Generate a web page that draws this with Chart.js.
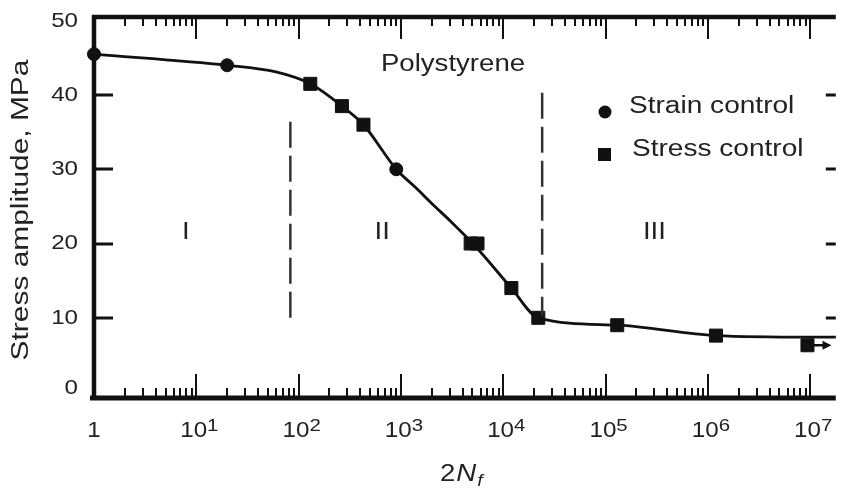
<!DOCTYPE html>
<html>
<head>
<meta charset="utf-8">
<script src="https://cdn.jsdelivr.net/npm/chart.js@4.4.1/dist/chart.umd.min.js"></script>
<style>
  html, body { margin: 0; padding: 0; background: #fff; overflow: hidden; }
</style>
</head>
<body>
<canvas id="snChart" width="846" height="491"></canvas>
<script>
// Fatigue data, polystyrene (stress amplitude vs reversals 2Nf)
const strainCycles = [1, 20, 900];
const strainStress = [45.5, 44, 30];

const stressCycles = [130, 265, 430, 4800, 5600, 12000, 22000, 130000, 1200000, 9400000];
const stressStress = [41.5, 38.5, 36, 20, 20, 14, 10, 9, 7.6, 6.3];

// hand-drawn fit through the points
const fitCycles = [1, 20, 60, 130, 265, 430, 900, 1400, 2000, 3000, 5200, 12000, 22000, 130000, 1200000, 10000000, 17800000];
const fitStress = [45.5, 44, 43.1, 41.5, 38.5, 36, 30, 27.5, 25.4, 23.1, 19.8, 14, 10, 9, 7.6, 7.4, 7.4];

// region boundaries (dashed)
const boundaryCycles = [83, 24000];
const boundaryTop = [36.4, 40.3];
const boundaryBottom = [10, 10.3];

const regionLabels = ["I", "II", "III"];
const regionCycles = [7.9, 655, 300000];
const regionStress = 21.4;

const yTicks = [10, 20, 30, 40];
const yTickLabels = [0, 10, 20, 30, 40, 50];
const xDecades = [0, 1, 2, 3, 4, 5, 6, 7];

const X_MAX = 17782794;
const INK = "#111";
const TEXT = "#222";
const FONT = "'Liberation Sans', Arial, sans-serif";

function pt(xs, ys) {
    return xs.map((x, i) => ({ x: x, y: ys[i] }));
}

// text with a horizontal stretch, returns the drawn width
function drawText(ctx, str, x, y, size, sx, align, style) {
    ctx.save();
    ctx.font = (style ? style + " " : "") + size + "px " + FONT;
    ctx.textAlign = align;
    ctx.textBaseline = "middle";
    ctx.fillStyle = TEXT;
    ctx.translate(x, y);
    ctx.scale(sx, 1);
    ctx.fillText(str, 0, 0);
    const w = ctx.measureText(str).width * sx;
    ctx.restore();
    return w;
}

function textWidth(ctx, str, size, sx) {
    ctx.save();
    ctx.font = size + "px " + FONT;
    const w = ctx.measureText(str).width * sx;
    ctx.restore();
    return w;
}

const boundarySets = boundaryCycles.map((c, i) => ({
    type: "line",
    data: [{ x: c, y: boundaryTop[i] }, { x: c, y: boundaryBottom[i] }],
    borderColor: "#333",
    borderWidth: 2.5,
    borderDash: [26, 8],
    pointRadius: 0,
    clip: false
}));

// Axes frame, ticks, labels and annotations
const framePlugin = {
    id: "frame",
    beforeDatasetsDraw(chart) {
        const ctx = chart.ctx;
        const a = chart.chartArea;
        const xs = chart.scales.x, ys = chart.scales.y;
        ctx.save();
        ctx.strokeStyle = INK;
        ctx.lineCap = "butt";

        // log ticks along top and bottom
        ctx.lineWidth = 2;
        xDecades.forEach(d => {
            for (let m = 1; m <= 9; m++) {
                const v = m * Math.pow(10, d);
                if (v > X_MAX) break;
                if (d === 0 && m === 1) continue;
                const px = Math.round(xs.getPixelForValue(v));
                const major = m === 1;
                ctx.beginPath();
                ctx.moveTo(px, a.bottom);
                ctx.lineTo(px, a.bottom - (major ? 24 : 10));
                ctx.moveTo(px, a.top);
                ctx.lineTo(px, a.top + (major ? 22 : 9));
                ctx.stroke();
            }
        });

        // y ticks left and right
        ctx.lineWidth = 3;
        yTicks.forEach(v => {
            const py = Math.round(ys.getPixelForValue(v));
            ctx.beginPath();
            ctx.moveTo(a.left, py);
            ctx.lineTo(a.left + 19, py);
            ctx.moveTo(a.right - 10, py);
            ctx.lineTo(a.right, py);
            ctx.stroke();
        });

        // frame lines
        ctx.lineWidth = 4.5;
        ctx.beginPath();
        ctx.moveTo(a.left, a.top - 2);
        ctx.lineTo(a.left, a.bottom + 2);
        ctx.moveTo(a.left - 2, a.top);
        ctx.lineTo(a.right, a.top);
        ctx.stroke();
        ctx.lineWidth = 5;
        ctx.beginPath();
        ctx.moveTo(a.left - 4, a.bottom);
        ctx.lineTo(a.right, a.bottom);
        ctx.stroke();

        // tick labels
        yTickLabels.forEach(v => {
            drawText(ctx, String(v), 78, ys.getPixelForValue(v) - (v === 0 ? 4 : 0), 21, 1.15, "right");
        });

        xDecades.forEach(d => {
            const px = xs.getPixelForValue(Math.pow(10, d));
            const y = 431;
            if (d === 0) {
                drawText(ctx, "1", px, y, 22, 1.1, "center");
                return;
            }
            const w1 = textWidth(ctx, "10", 22, 1.1);
            const w2 = textWidth(ctx, String(d), 17, 1.2);
            const left = px - (w1 + w2) / 2 + 3;
            drawText(ctx, "10", left, y, 22, 1.1, "left");
            drawText(ctx, String(d), left + w1, y - 5, 17, 1.2, "left");
        });

        // axis titles
        ctx.save();
        ctx.translate(22, 210);
        ctx.rotate(-Math.PI / 2);
        drawText(ctx, "Stress amplitude, MPa", 0, 0, 23, 1.3, "center");
        ctx.restore();

        let tx = 440;
        tx += drawText(ctx, "2", tx, 474, 24, 1.15, "left");
        tx += drawText(ctx, "N", tx + 1, 474, 24, 1.15, "left", "italic") + 1;
        drawText(ctx, "f", tx + 1, 481, 17, 1.15, "left", "italic");

        // region labels and material name
        regionLabels.forEach((t, i) => {
            drawText(ctx, t, xs.getPixelForValue(regionCycles[i]), ys.getPixelForValue(regionStress), 23, 1.2, "center");
        });
        drawText(ctx, "Polystyrene", 453, 65, 23, 1.2, "center");

        // legend
        ctx.fillStyle = INK;
        ctx.beginPath();
        ctx.arc(605, 112, 6.5, 0, Math.PI * 2);
        ctx.fill();
        ctx.fillRect(598, 148, 13, 13);
        drawText(ctx, chart.data.datasets[1].label, 629, 107, 23, 1.22, "left");
        drawText(ctx, chart.data.datasets[2].label, 632, 150, 23, 1.22, "left");
        ctx.restore();
    },
    afterDatasetsDraw(chart) {
        // run-out arrow on the last stress-controlled point
        const ctx = chart.ctx;
        const xs = chart.scales.x, ys = chart.scales.y;
        const n = stressCycles.length - 1;
        const px = xs.getPixelForValue(stressCycles[n]);
        const py = ys.getPixelForValue(stressStress[n]);
        ctx.save();
        ctx.strokeStyle = INK;
        ctx.fillStyle = INK;
        ctx.lineWidth = 2.5;
        ctx.beginPath();
        ctx.moveTo(px + 6, py);
        ctx.lineTo(px + 17, py);
        ctx.stroke();
        ctx.beginPath();
        ctx.moveTo(px + 24, py);
        ctx.lineTo(px + 15, py - 4.5);
        ctx.lineTo(px + 15, py + 4.5);
        ctx.closePath();
        ctx.fill();
        ctx.restore();
    }
};

new Chart(document.getElementById("snChart"), {
    type: "scatter",
    data: {
        datasets: [
            {
                type: "line",
                label: "fit",
                data: pt(fitCycles, fitStress),
                borderColor: INK,
                borderWidth: 2.8,
                pointRadius: 0,
                cubicInterpolationMode: "monotone",
                clip: false,
                order: 2
            },
            {
                label: "Strain control",
                data: pt(strainCycles, strainStress),
                pointStyle: "circle",
                pointRadius: 6.5,
                backgroundColor: INK,
                borderColor: INK,
                clip: false,
                order: 1
            },
            {
                label: "Stress control",
                data: pt(stressCycles, stressStress),
                pointStyle: "rect",
                pointRadius: 9.2,
                backgroundColor: INK,
                borderColor: INK,
                clip: false,
                order: 1
            },
            ...boundarySets
        ]
    },
    options: {
        responsive: false,
        animation: false,
        devicePixelRatio: 1,
        layout: { padding: { left: 94, top: 17, right: 0, bottom: 93 } },
        scales: {
            x: { type: "logarithmic", min: 1, max: X_MAX, display: false },
            y: { type: "linear", min: -0.8, max: 50.5, display: false }
        },
        plugins: {
            legend: { display: false },
            tooltip: { enabled: false }
        }
    },
    plugins: [framePlugin]
});
</script>
</body>
</html>
